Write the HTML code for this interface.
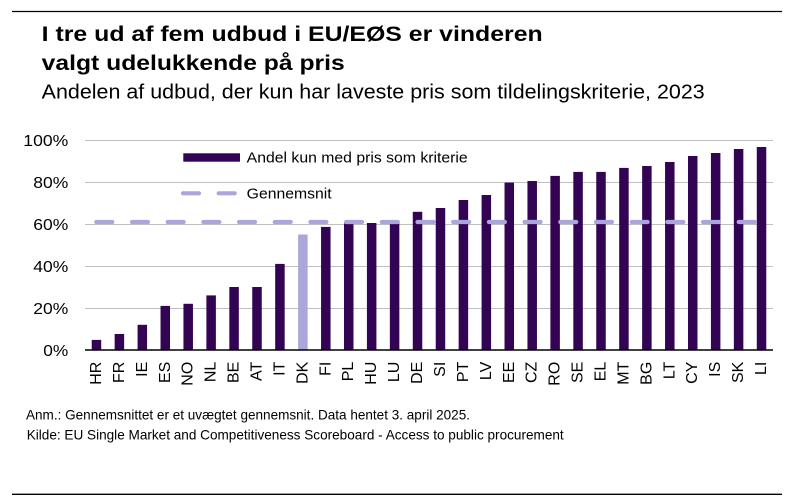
<!DOCTYPE html>
<html>
<head>
<meta charset="utf-8">
<style>
html,body{margin:0;padding:0;background:#fff;}
svg{display:block;}
text{font-family:"Liberation Sans",Arial,sans-serif;fill:#000;}
</style>
</head>
<body>
<svg width="788" height="501" viewBox="0 0 788 501" xmlns="http://www.w3.org/2000/svg">
  <rect width="788" height="501" fill="#fff"/>
  <!-- top and bottom rules -->
  <line x1="12" y1="11.5" x2="782" y2="11.5" stroke="#000" stroke-width="1.3"/>
  <line x1="12" y1="494.3" x2="782" y2="494.3" stroke="#000" stroke-width="1.3"/>

  <!-- titles -->
  <text x="41.7" y="41" font-size="21.5" font-weight="bold" textLength="501" lengthAdjust="spacingAndGlyphs">I tre ud af fem udbud i EU/EØS er vinderen</text>
  <text x="41.7" y="70" font-size="21.5" font-weight="bold" textLength="303" lengthAdjust="spacingAndGlyphs">valgt udelukkende på pris</text>
  <text x="41.7" y="98.5" font-size="20" textLength="663" lengthAdjust="spacingAndGlyphs">Andelen af udbud, der kun har laveste pris som tildelingskriterie, 2023</text>

  <!-- gridlines -->
  <g stroke="#bfbfbf" stroke-width="1">
    <line x1="85" y1="140.5" x2="773" y2="140.5"/>
    <line x1="85" y1="182.5" x2="773" y2="182.5"/>
    <line x1="85" y1="224.5" x2="773" y2="224.5"/>
    <line x1="85" y1="266.5" x2="773" y2="266.5"/>
    <line x1="85" y1="308.5" x2="773" y2="308.5"/>
  </g>

  <!-- y tick labels -->
  <g font-size="15.5">
    <text x="23.3" y="146" textLength="45" lengthAdjust="spacingAndGlyphs">100%</text>
    <text x="33.3" y="188" textLength="35" lengthAdjust="spacingAndGlyphs">80%</text>
    <text x="33.3" y="230" textLength="35" lengthAdjust="spacingAndGlyphs">60%</text>
    <text x="33.3" y="272" textLength="35" lengthAdjust="spacingAndGlyphs">40%</text>
    <text x="33.3" y="314" textLength="35" lengthAdjust="spacingAndGlyphs">20%</text>
    <text x="43.3" y="356" textLength="25" lengthAdjust="spacingAndGlyphs">0%</text>
  </g>

  <!-- bars -->
  <g fill="#340454">
    <rect x="91.72" y="339.9" width="9.5" height="10.1"/>
    <rect x="114.65" y="334" width="9.5" height="16"/>
    <rect x="137.58" y="324.8" width="9.5" height="25.2"/>
    <rect x="160.52" y="305.9" width="9.5" height="44.1"/>
    <rect x="183.45" y="303.8" width="9.5" height="46.2"/>
    <rect x="206.38" y="295.4" width="9.5" height="54.6"/>
    <rect x="229.32" y="287" width="9.5" height="63"/>
    <rect x="252.25" y="287" width="9.5" height="63"/>
    <rect x="275.18" y="263.9" width="9.5" height="86.1"/>
    <rect x="321.05" y="226.9" width="9.5" height="123.1"/>
    <rect x="343.98" y="223.4" width="9.5" height="126.6"/>
    <rect x="366.92" y="223" width="9.5" height="127"/>
    <rect x="389.85" y="221.9" width="9.5" height="128.1"/>
    <rect x="412.78" y="211.8" width="9.5" height="138.2"/>
    <rect x="435.72" y="208" width="9.5" height="142"/>
    <rect x="458.65" y="200" width="9.5" height="150"/>
    <rect x="481.58" y="195" width="9.5" height="155"/>
    <rect x="504.52" y="182.6" width="9.5" height="167.4"/>
    <rect x="527.45" y="181" width="9.5" height="169"/>
    <rect x="550.38" y="175.9" width="9.5" height="174.1"/>
    <rect x="573.32" y="171.9" width="9.5" height="178.1"/>
    <rect x="596.25" y="171.9" width="9.5" height="178.1"/>
    <rect x="619.18" y="167.9" width="9.5" height="182.1"/>
    <rect x="642.12" y="166" width="9.5" height="184"/>
    <rect x="665.05" y="162" width="9.5" height="188"/>
    <rect x="687.98" y="156" width="9.5" height="194"/>
    <rect x="710.92" y="153" width="9.5" height="197"/>
    <rect x="733.85" y="149" width="9.5" height="201"/>
    <rect x="756.78" y="147" width="9.5" height="203"/>
  </g>
  <rect x="298.12" y="234.5" width="9.5" height="115.5" fill="#aaa6dc"/>

  <!-- average dashed line -->
  <path d="M96.3 222 H755" stroke="#aaa6dc" stroke-width="4.2" stroke-linecap="round" stroke-dasharray="16 19.69" fill="none"/>

  <!-- x axis -->
  <line x1="85" y1="350" x2="773" y2="350" stroke="#000" stroke-width="1.6"/>

  <!-- x labels -->
  <g font-size="16" text-anchor="end">
    <text transform="translate(101,361.7) rotate(-90)">HR</text>
    <text transform="translate(123.9,361.7) rotate(-90)">FR</text>
    <text transform="translate(146.8,361.7) rotate(-90)">IE</text>
    <text transform="translate(169.8,361.7) rotate(-90)">ES</text>
    <text transform="translate(192.7,361.7) rotate(-90)">NO</text>
    <text transform="translate(215.6,361.7) rotate(-90)">NL</text>
    <text transform="translate(238.6,361.7) rotate(-90)">BE</text>
    <text transform="translate(261.5,361.7) rotate(-90)">AT</text>
    <text transform="translate(284.4,361.7) rotate(-90)">IT</text>
    <text transform="translate(307.4,361.7) rotate(-90)">DK</text>
    <text transform="translate(330.3,361.7) rotate(-90)">FI</text>
    <text transform="translate(353.2,361.7) rotate(-90)">PL</text>
    <text transform="translate(376.2,361.7) rotate(-90)">HU</text>
    <text transform="translate(399.1,361.7) rotate(-90)">LU</text>
    <text transform="translate(422,361.7) rotate(-90)">DE</text>
    <text transform="translate(445,361.7) rotate(-90)">SI</text>
    <text transform="translate(467.9,361.7) rotate(-90)">PT</text>
    <text transform="translate(490.8,361.7) rotate(-90)">LV</text>
    <text transform="translate(513.8,361.7) rotate(-90)">EE</text>
    <text transform="translate(536.7,361.7) rotate(-90)">CZ</text>
    <text transform="translate(559.6,361.7) rotate(-90)">RO</text>
    <text transform="translate(582.6,361.7) rotate(-90)">SE</text>
    <text transform="translate(605.5,361.7) rotate(-90)">EL</text>
    <text transform="translate(628.4,361.7) rotate(-90)">MT</text>
    <text transform="translate(651.4,361.7) rotate(-90)">BG</text>
    <text transform="translate(674.3,361.7) rotate(-90)">LT</text>
    <text transform="translate(697.2,361.7) rotate(-90)">CY</text>
    <text transform="translate(720.2,361.7) rotate(-90)">IS</text>
    <text transform="translate(743.1,361.7) rotate(-90)">SK</text>
    <text transform="translate(766,361.7) rotate(-90)">LI</text>
  </g>

  <!-- legend -->
  <rect x="183.3" y="153.3" width="56.7" height="8.4" fill="#340454"/>
  <text x="246.7" y="162.7" font-size="15" textLength="221" lengthAdjust="spacingAndGlyphs">Andel kun med pris som kriterie</text>
  <line x1="183" y1="193.3" x2="199" y2="193.3" stroke="#aaa6dc" stroke-width="4.2" stroke-linecap="round"/>
  <line x1="218.7" y1="193.3" x2="234.7" y2="193.3" stroke="#aaa6dc" stroke-width="4.2" stroke-linecap="round"/>
  <text x="246.7" y="198.3" font-size="15" textLength="85" lengthAdjust="spacingAndGlyphs">Gennemsnit</text>

  <!-- footnotes -->
  <text x="26" y="419.3" font-size="14" textLength="444" lengthAdjust="spacingAndGlyphs">Anm.: Gennemsnittet er et uvægtet gennemsnit. Data hentet 3. april 2025.</text>
  <text x="26.7" y="439.3" font-size="14" textLength="537" lengthAdjust="spacingAndGlyphs">Kilde: EU Single Market and Competitiveness Scoreboard - Access to public procurement</text>
</svg>
</body>
</html>
